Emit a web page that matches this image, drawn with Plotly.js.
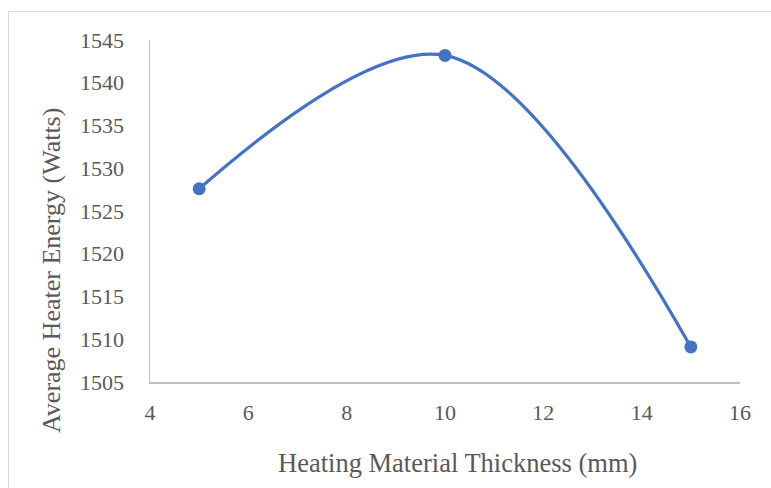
<!DOCTYPE html>
<html>
<head>
<meta charset="utf-8">
<script src="https://cdn.plot.ly/plotly-3.0.1.min.js"></script>
<style>
html,body{margin:0;padding:0;background:#fff;}
#chart{width:771px;height:488px;position:relative;}
#frame{position:absolute;left:8px;top:11px;width:770px;height:480px;border:1px solid #d9d9d9;pointer-events:none;}
</style>
</head>
<body>
<div id="chart"></div>
<div id="frame"></div>
<script>
const thickness = [5, 10, 15];
const energy = [1527.6, 1543.2, 1509.1];
const xTicks = [4, 6, 8, 10, 12, 14, 16];
const yTicks = [1505, 1510, 1515, 1520, 1525, 1530, 1535, 1540, 1545];
const xTitle = 'Heating Material Thickness (mm)';
const yTitle = 'Average Heater Energy (Watts)';

const fam = '"Liberation Serif", "Times New Roman", serif';
const grey = '#595959';

const W = 771, H = 488;
const M = {l: 150, r: 31, t: 40, b: 106};
const pw = W - M.l - M.r, ph = H - M.t - M.b;
const px = x => (x - M.l) / pw;
const py = y => (H - M.b - y) / ph;

Plotly.newPlot('chart', [{
  x: thickness,
  y: energy,
  type: 'scatter',
  mode: 'lines+markers',
  line: {color: '#4472c4', width: 3.2, shape: 'spline', smoothing: 1},
  marker: {color: '#4472c4', size: 13}
}], {
  width: W, height: H,
  margin: M,
  paper_bgcolor: '#fff', plot_bgcolor: '#fff',
  showlegend: false,
  font: {family: fam, color: grey, size: 22},
  xaxis: {
    range: [4, 16], tickvals: xTicks, ticktext: xTicks.map(String),
    showgrid: false, zeroline: false, showline: true, linecolor: '#bfbfbf', linewidth: 1.5,
    ticks: '', tickfont: {family: fam, color: grey, size: 22}, ticklabelstandoff: 10
  },
  yaxis: {
    range: [1505, 1545], tickvals: yTicks, ticktext: yTicks.map(String),
    showgrid: false, zeroline: false, showline: true, linecolor: '#bfbfbf', linewidth: 1.5,
    ticks: '', tickfont: {family: fam, color: grey, size: 22}, ticklabelstandoff: 20
  },
  annotations: [
    {text: xTitle, xref: 'paper', yref: 'paper', x: px(457), y: py(463),
     xanchor: 'center', yanchor: 'middle', showarrow: false,
     font: {family: fam, color: grey, size: 26.5}},
    {text: yTitle, xref: 'paper', yref: 'paper', x: px(51), y: py(271),
     xanchor: 'center', yanchor: 'middle', showarrow: false, textangle: -90,
     font: {family: fam, color: grey, size: 26}}
  ]
}, {displayModeBar: false, staticPlot: true});
</script>
</body>
</html>
